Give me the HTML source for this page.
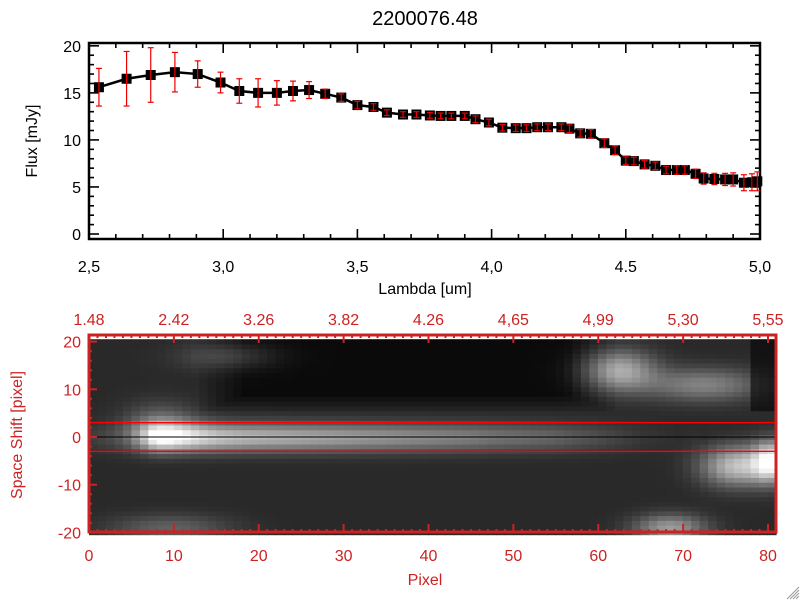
<!DOCTYPE html>
<html><head><meta charset="utf-8"><style>
html,body{margin:0;padding:0;background:#fff;}
svg{display:block;font-family:"Liberation Sans",sans-serif;}
</style></head><body>
<svg id="c" width="800" height="600" xmlns="http://www.w3.org/2000/svg"></svg>
<script>
// ---- top panel data ----
const lambdas=[2.537,2.64,2.73,2.82,2.905,2.99,3.06,3.13,3.2,3.26,3.32,3.38,3.44,3.5,3.56,3.61,3.67,3.72,3.77,3.81,3.85,3.9,3.94,3.99,4.04,4.09,4.13,4.17,4.21,4.26,4.29,4.33,4.37,4.42,4.46,4.5,4.53,4.57,4.61,4.65,4.69,4.72,4.76,4.79,4.83,4.87,4.9,4.94,4.97,4.99];
const flux=[15.6,16.5,16.9,17.2,17.0,16.1,15.2,15.0,15.0,15.2,15.3,14.9,14.5,13.7,13.5,12.9,12.7,12.7,12.6,12.55,12.55,12.55,12.2,11.85,11.3,11.25,11.25,11.35,11.35,11.35,11.2,10.7,10.65,9.65,8.9,7.8,7.75,7.4,7.25,6.8,6.8,6.8,6.4,5.9,5.85,5.8,5.8,5.45,5.5,5.6];
const fluxErr=[2.0,2.9,2.9,2.1,1.4,1.1,1.3,1.5,1.3,1.05,0.9,0.5,0.4,0.4,0.35,0.3,0.3,0.3,0.3,0.3,0.3,0.3,0.35,0.35,0.35,0.35,0.35,0.35,0.35,0.35,0.4,0.4,0.45,0.45,0.45,0.4,0.4,0.4,0.4,0.4,0.45,0.45,0.5,0.6,0.6,0.65,0.7,0.85,0.9,1.0,1.2];
const xTicksTop=[2.5,3.0,3.5,4.0,4.5,5.0];
const xTickLabelsTop=["2,5","3,0","3,5","4,0","4.5","5,0"];
const yTicksTop=[0,5,10,15,20];
// ---- bottom panel data ----
const wlTickLabels=["1.48","2.42","3.26","3.82","4.26","4,65","4,99","5,30","5,55"];
const pixelTicks=[0,10,20,30,40,50,60,70,80];
const shiftTicks=[-20,-10,0,10,20];
const bandAmp=[0.1,0.12,0.14,0.18,0.25,0.4,0.6,0.85,0.95,0.95,0.9,0.86,0.82,0.78,0.75,0.72,0.7,0.68,0.66,0.65,0.64,0.63,0.62,0.61,0.6,0.59,0.58,0.57,0.56,0.55,0.54,0.53,0.52,0.51,0.5,0.49,0.48,0.47,0.46,0.45,0.44,0.43,0.42,0.41,0.4,0.39,0.37,0.35,0.34,0.33,0.32,0.31,0.3,0.29,0.28,0.26,0.24,0.22,0.2,0.18,0.16,0.14,0.12,0.1,0.08,0.06,0.05,0.04,0.03,0.02,0.02,0.02,0.0,0.0,0.0,0.0,0.0,0.0,0.0,0.0,0.0];
const blobs=[[62,14,0.5,3,3],[72,11,0.35,5,2.5],[76,-6,0.6,3,3],[80,-5,0.7,1.5,3],[68,-19,0.45,3,2],[9,-19,0.22,5,2],[16,17,0.18,4,2],[8,3,0.25,3,3]];
const darkRegion=[16,58,8,19];

const NS="http://www.w3.org/2000/svg";
const svg=document.getElementById('c');
function el(t,a,p){const e=document.createElementNS(NS,t);for(const k in a)e.setAttribute(k,a[k]);(p||svg).appendChild(e);return e;}

// top axes
const T={x0:89,x1:760,y0:239,y1:43};
const xs=v=>T.x0+(v-2.5)/(5.0-2.5)*(T.x1-T.x0);
const ys=v=>T.y0-(v-(-0.53))/(20.3-(-0.53))*(T.y0-T.y1);
const title=el('text',{x:425,y:25,'text-anchor':'middle','font-size':20,fill:'#000'});title.textContent='2200076.48';

const gt=el('g',{});
for(let v=2.5;v<=5.001;v+=0.1){const x=xs(v);const maj=Math.abs(v*2-Math.round(v*2))<0.01;const L=maj?10:5;
el('line',{x1:x,y1:T.y0,x2:x,y2:T.y0-L,stroke:'#000','stroke-width':1.6},gt);el('line',{x1:x,y1:T.y1,x2:x,y2:T.y1+L,stroke:'#000','stroke-width':1.6},gt);}
for(let v=0;v<=20;v+=1){const y=ys(v);const L=v%5==0?10:5;
el('line',{x1:T.x0,y1:y,x2:T.x0+L,y2:y,stroke:'#000','stroke-width':1.6},gt);el('line',{x1:T.x1,y1:y,x2:T.x1-L,y2:y,stroke:'#000','stroke-width':1.6},gt);}
el('rect',{x:T.x0,y:T.y1,width:T.x1-T.x0,height:T.y0-T.y1,fill:'none',stroke:'#000','stroke-width':2.5},gt);
xTicksTop.forEach((v,i)=>{const t=el('text',{x:xs(v),y:272,'text-anchor':'middle','font-size':16},gt);t.textContent=xTickLabelsTop[i];});
yTicksTop.forEach(v=>{const t=el('text',{x:81,y:ys(v)+6,'text-anchor':'end','font-size':16},gt);t.textContent=v;});
const xl=el('text',{x:425,y:294,'text-anchor':'middle','font-size':16});xl.textContent='Lambda [um]';

const yl=el('text',{x:37,y:141,'text-anchor':'middle','font-size':16,transform:'rotate(-90 37 141)'});yl.textContent='Flux [mJy]';

// series
const gs=el('g',{});
el('polyline',{points:lambdas.map((l,i)=>xs(l)+','+ys(flux[i])).join(' '),fill:'none',stroke:'#000','stroke-width':2.5},gs);
lambdas.forEach((l,i)=>{const x=xs(l);
const r=el('rect',{x:x-5,y:ys(flux[i])-5,width:10,height:10,fill:'#000'},gs);

const e=fluxErr[i],y1=ys(flux[i]+e),y2=ys(flux[i]-e);
const g=el('g',{stroke:'#e00','stroke-width':1.2},gs);

el('line',{x1:x,y1:y1,x2:x,y2:y2},g);el('line',{x1:x-3,y1:y1,x2:x+3,y2:y1},g);el('line',{x1:x-3,y1:y2,x2:x+3,y2:y2},g);});

// bottom heatmap
const B={x0:89,x1:776,y0:532,y1:335};
const px=c=>B.x0+(c)/(81)*(B.x1-B.x0);
const sy=v=>437-v*4.77;
const gh=el('g',{});
const cw=(B.x1-B.x0)/81;
const sm=(a,b,t)=>Math.max(0,Math.min(1,(t-a)/(b-a)));
for(let c=0;c<81;c++){for(let r=-20;r<=20;r++){
let v=0.16;
const dk=Math.min(sm(darkRegion[0]-4,darkRegion[0]+2,c),sm(darkRegion[1]+4,darkRegion[1]-2,c),sm(darkRegion[2]-3,darkRegion[2]+1,r));
v=v-dk*0.12;
const prof=Math.exp(-(r*r)/(2*2.1*2.1));v+=bandAmp[c]*prof*0.85;
blobs.forEach(b=>{v+=b[2]*Math.exp(-((c-b[0])**2)/(2*b[3]*b[3])-((r-b[1])**2)/(2*b[4]*b[4]));});
if(c>=78&&r>5)v*=0.45;
v=Math.max(0,Math.min(1,v));const g=Math.round(v*255);
el('rect',{x:px(c),y:sy(r)-2.4,width:cw+0.6,height:5.2,fill:`rgb(${g},${g},${g})`},gh);}}
el('line',{x1:B.x0,y1:sy(3),x2:B.x1,y2:sy(3),stroke:'#f00','stroke-width':1.3},gh);
el('line',{x1:B.x0,y1:sy(-3),x2:B.x1,y2:sy(-3),stroke:'#f00','stroke-width':1.3},gh);
el('line',{x1:B.x0,y1:437,x2:B.x1,y2:437,stroke:'#000','stroke-width':1},gh);
const red='#cc2222';
const gb=el('g',{});
for(let p=0;p<=80;p++){const x=B.x0+p*(768-89)/80;const L=p%10==0?8:3;
el('line',{x1:x,y1:B.y0,x2:x,y2:B.y0-L,stroke:red,'stroke-width':2},gb);el('line',{x1:x,y1:B.y1,x2:x,y2:B.y1+L,stroke:red,'stroke-width':2},gb);}
for(let v=-20;v<=20;v+=2){const y=sy(v);const L=v%10==0?8:3;el('line',{x1:B.x0,y1:y,x2:B.x0+L,y2:y,stroke:red,'stroke-width':2},gb);}
el('rect',{x:B.x0,y:B.y1,width:B.x1-B.x0,height:B.y0-B.y1,fill:'none',stroke:red,'stroke-width':3},gb);
pixelTicks.forEach((p,i)=>{const x=B.x0+p*(768-89)/80;
const t=el('text',{x:x,y:561,'text-anchor':'middle','font-size':16,fill:red},gb);t.textContent=p;
const w=el('text',{x:x,y:325,'text-anchor':'middle','font-size':16,fill:red},gb);w.textContent=wlTickLabels[i];});
shiftTicks.forEach(v=>{const t=el('text',{x:81,y:sy(v)+6,'text-anchor':'end','font-size':16,fill:red},gb);t.textContent=v;});
const pl=el('text',{x:425,y:585,'text-anchor':'middle','font-size':16,fill:red});pl.textContent='Pixel';

const sl=el('text',{x:22,y:435,'text-anchor':'middle','font-size':16,fill:red,transform:'rotate(-90 22 435)'});sl.textContent='Space Shift [pixel]';

const rz=el('g',{stroke:'#999','stroke-width':1});
for(let k=0;k<4;k++)el('line',{x1:799-3*k-3,y1:599,x2:799,y2:599-3*k-3},rz);
</script>
</body></html>
